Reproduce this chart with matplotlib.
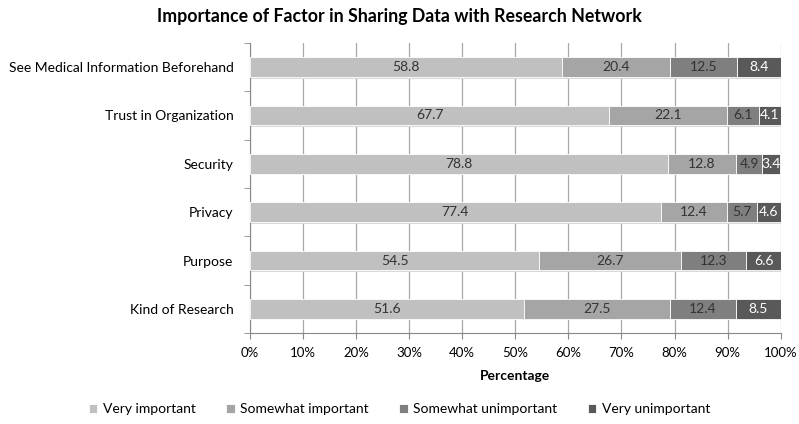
import numpy as np
import matplotlib.pyplot as plt

# categories listed bottom to top
categories = ['Kind of Research', 'Purpose', 'Privacy', 'Security',
              'Trust in Organization', 'See Medical Information Beforehand']
very_imp = [51.6, 54.5, 77.4, 78.8, 67.7, 58.8]
some_imp = [27.5, 26.7, 12.4, 12.8, 22.1, 20.4]
some_unimp = [12.4, 12.3, 5.7, 4.9, 6.1, 12.5]
very_unimp = [8.5, 6.6, 4.6, 3.4, 4.1, 8.4]
series_names = ['Very important', 'Somewhat important',
                'Somewhat unimportant', 'Very unimportant']

plt.rcParams['font.family'] = ['Lato', 'DejaVu Sans']

colors = ['#c0c0c0', '#a5a5a5', '#7f7f7f', '#595959']
text_colors = ['#333333', '#333333', '#333333', '#ffffff']

fig = plt.figure(figsize=(7.99, 4.24), dpi=100)
ax = fig.add_axes([0.313, 0.2146, 0.664, 0.684])

y = np.arange(len(categories))
left = np.zeros(len(categories))
for vals, name, col, tcol in zip([very_imp, some_imp, some_unimp, very_unimp],
                                 series_names, colors, text_colors):
    vals = np.array(vals)
    # faint shadow under the bars
    ax.barh(y - 0.03, vals, left=left, height=0.42, color='#d9d9d9',
            zorder=2)
    bars = ax.barh(y, vals, left=left, height=0.41, color=col, label=name,
                   edgecolor='white', linewidth=0.6, zorder=3)
    for b, v in zip(bars, vals):
        ax.text(b.get_x() + b.get_width() / 2, b.get_y() + b.get_height() / 2,
                f'{v:.1f}', ha='center', va='center', color=tcol,
                fontsize=10, zorder=4)
    left += vals

ax.set_xlim(0, 100)
ax.set_ylim(-0.5, len(categories) - 0.5)
ax.set_xticks(np.arange(0, 101, 10))
ax.set_xticklabels([f'{t}%' for t in range(0, 101, 10)], fontsize=9.5)
ax.set_yticks(y)
ax.set_yticklabels(categories, fontsize=10)
ax.set_yticks(np.arange(-0.5, len(categories), 1), minor=True)
ax.tick_params(axis='y', which='major', length=0, pad=12)
ax.tick_params(axis='y', which='minor', length=4, color='#888888')
ax.tick_params(axis='x', length=4, color='#888888', pad=6)
ax.grid(axis='x', color='#a8a8a8', linewidth=0.9, zorder=0)
ax.set_axisbelow(True)
for s in ['top', 'right']:
    ax.spines[s].set_visible(False)
for s in ['left', 'bottom']:
    ax.spines[s].set_color('#888888')

ax.set_xlabel('Percentage', fontsize=10, fontweight='bold', labelpad=8)
fig.text(0.5, 0.96, 'Importance of Factor in Sharing Data with Research Network',
         ha='center', va='center', fontsize=12.8, fontweight='bold')

fig.legend(loc='center', bbox_to_anchor=(0.5, 0.035), ncol=4, frameon=False,
           fontsize=10, handlelength=0.6, handleheight=0.6,
           handletextpad=0.4, columnspacing=2.2)

fig.savefig('out.png', dpi=100)
